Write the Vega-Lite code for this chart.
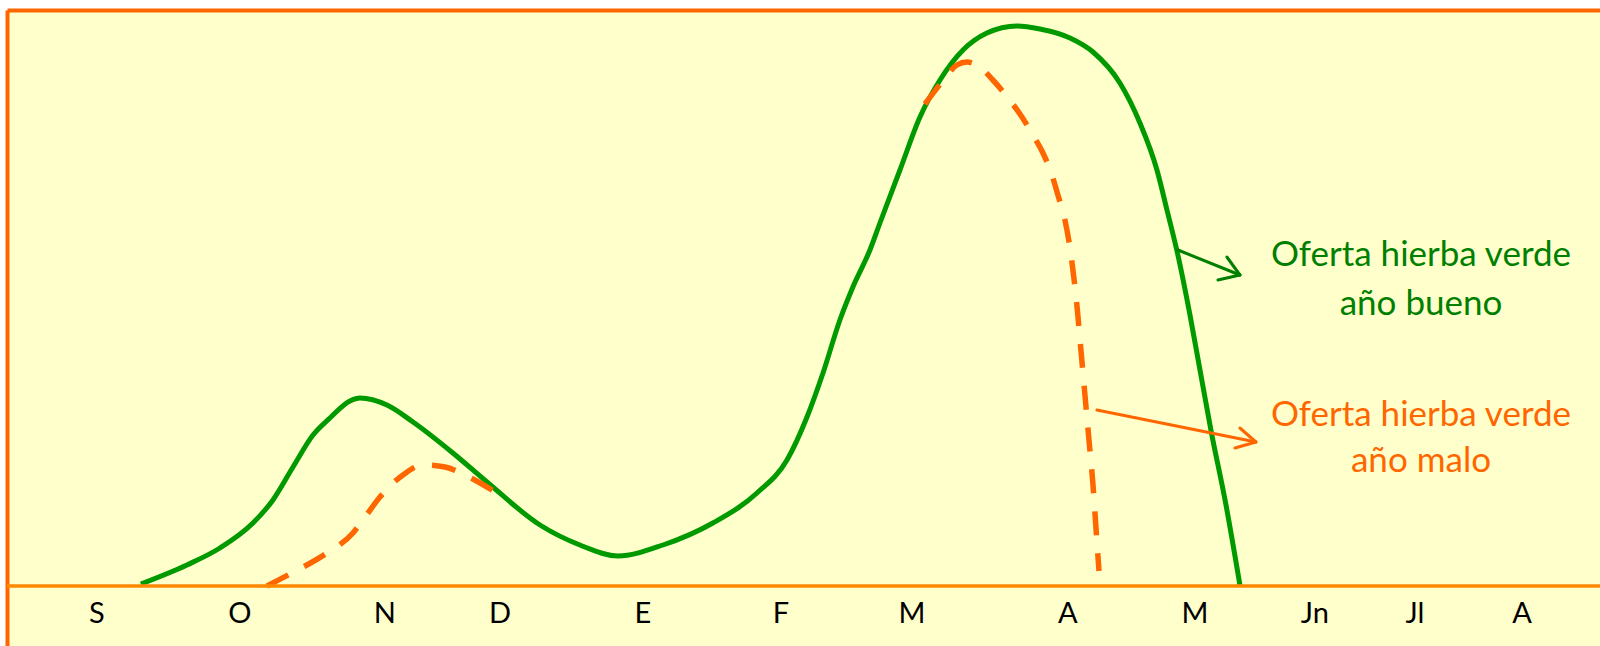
{
  "$schema": "https://vega.github.io/schema/vega-lite/v6.json",
  "width": 1593,
  "height": 636,
  "autosize": {"type": "none"},
  "padding": {"left": 7, "top": 10, "right": 0, "bottom": 0},
  "background": "#FFFFFF",
  "config": {
    "view": {"fill": "#FFFFCC", "stroke": null},
    "axis": {"labels": false, "ticks": false, "grid": false, "domainColor": "#FF6600", "domainWidth": 4}
  },
  "datasets": {
    "bueno": [
      {"x": 0.338, "y": 0.5}, {"x": 0.692, "y": 5.25}, {"x": 0.946, "y": 9.5}, {"x": 1.2, "y": 15.75},
      {"x": 1.354, "y": 21.5}, {"x": 1.508, "y": 29.75}, {"x": 1.662, "y": 37.75}, {"x": 1.792, "y": 42},
      {"x": 1.946, "y": 46.25}, {"x": 2.023, "y": 47}, {"x": 2.231, "y": 45.25}, {"x": 2.431, "y": 41},
      {"x": 2.738, "y": 33.25}, {"x": 3.0, "y": 26}, {"x": 3.408, "y": 15.25}, {"x": 3.715, "y": 10.25},
      {"x": 4.008, "y": 7.5}, {"x": 4.354, "y": 10.25}, {"x": 4.738, "y": 15.75}, {"x": 5.077, "y": 23.25},
      {"x": 5.308, "y": 31.5}, {"x": 5.462, "y": 42.25}, {"x": 5.585, "y": 53.25}, {"x": 5.715, "y": 66.5},
      {"x": 5.815, "y": 74.75}, {"x": 5.946, "y": 84}, {"x": 6.023, "y": 90.75}, {"x": 6.177, "y": 104},
      {"x": 6.331, "y": 117.25}, {"x": 6.485, "y": 126.5}, {"x": 6.662, "y": 134}, {"x": 6.846, "y": 138.25},
      {"x": 7.077, "y": 140}, {"x": 7.254, "y": 139.25}, {"x": 7.485, "y": 137}, {"x": 7.662, "y": 133.5},
      {"x": 7.869, "y": 125.75}, {"x": 8.023, "y": 115.75}, {"x": 8.154, "y": 104}, {"x": 8.231, "y": 94},
      {"x": 8.315, "y": 82.75}, {"x": 8.408, "y": 67.75}, {"x": 8.485, "y": 54}, {"x": 8.569, "y": 39},
      {"x": 8.685, "y": 20.25}, {"x": 8.792, "y": 0.25}
    ],
    "malo": [
      {"seg": 1, "x": 1.308, "y": 0}, {"seg": 1, "x": 1.485, "y": 3}, {"seg": 1, "x": 1.769, "y": 8.25},
      {"seg": 1, "x": 1.969, "y": 13.25}, {"seg": 1, "x": 2.046, "y": 16.5}, {"seg": 1, "x": 2.177, "y": 22.25},
      {"seg": 1, "x": 2.354, "y": 27.75}, {"seg": 1, "x": 2.508, "y": 30.25}, {"seg": 1, "x": 2.677, "y": 29.75},
      {"seg": 1, "x": 2.846, "y": 27.5}, {"seg": 1, "x": 3.1, "y": 22.75},
      {"seg": 2, "x": 6.369, "y": 120.5}, {"seg": 2, "x": 6.5, "y": 126}, {"seg": 2, "x": 6.615, "y": 130.25},
      {"seg": 2, "x": 6.692, "y": 131}, {"seg": 2, "x": 6.769, "y": 130.25}, {"seg": 2, "x": 6.892, "y": 126.5},
      {"seg": 2, "x": 7.008, "y": 122}, {"seg": 2, "x": 7.1, "y": 118}, {"seg": 2, "x": 7.2, "y": 112.75},
      {"seg": 2, "x": 7.277, "y": 108.25}, {"seg": 2, "x": 7.346, "y": 102.75}, {"seg": 2, "x": 7.392, "y": 97.75},
      {"seg": 2, "x": 7.446, "y": 91.5}, {"seg": 2, "x": 7.485, "y": 84.5}, {"seg": 2, "x": 7.515, "y": 77},
      {"seg": 2, "x": 7.538, "y": 70.25}, {"seg": 2, "x": 7.569, "y": 59}, {"seg": 2, "x": 7.6, "y": 47.75},
      {"seg": 2, "x": 7.631, "y": 36.5}, {"seg": 2, "x": 7.662, "y": 25.25}, {"seg": 2, "x": 7.685, "y": 14.5},
      {"seg": 2, "x": 7.708, "y": 3.75}
    ],
    "flechas": [
      {"serie": "bueno", "x": 8.315, "y": 84, "x2": 8.792, "y2": 77.75},
      {"serie": "bueno", "x": 8.623, "y": 76.5, "x2": 8.792, "y2": 77.75},
      {"serie": "bueno", "x": 8.692, "y": 82.25, "x2": 8.792, "y2": 77.75},
      {"serie": "malo", "x": 7.692, "y": 44, "x2": 8.915, "y2": 36},
      {"serie": "malo", "x": 8.754, "y": 34.5, "x2": 8.915, "y2": 36},
      {"serie": "malo", "x": 8.792, "y": 39.5, "x2": 8.915, "y2": 36}
    ],
    "meses": [
      {"m": "S", "x": 0}, {"m": "O", "x": 1.1}, {"m": "N", "x": 2.215}, {"m": "D", "x": 3.1},
      {"m": "E", "x": 4.2}, {"m": "F", "x": 5.262}, {"m": "M", "x": 6.269}, {"m": "A", "x": 7.469},
      {"m": "M ", "x": 8.446}, {"m": "Jn", "x": 9.369}, {"m": "Jl", "x": 10.138}, {"m": "A ", "x": 10.962}
    ],
    "notas": [
      {"serie": "bueno", "t": "Oferta hierba verde", "x": 10.185, "y": 82.75},
      {"serie": "bueno", "t": "año bueno", "x": 10.185, "y": 70.5},
      {"serie": "malo", "t": "Oferta hierba verde", "x": 10.185, "y": 42.75},
      {"serie": "malo", "t": "año malo", "x": 10.185, "y": 31.25}
    ]
  },
  "layer": [
    {
      "data": {"name": "bueno"},
      "mark": {"type": "line", "interpolate": "monotone", "color": "#009900", "strokeWidth": 5},
      "encoding": {
        "x": {"field": "x", "type": "quantitative", "scale": {"domain": [-0.692, 11.562], "nice": false, "zero": false}, "axis": {"orient": "top", "title": null}},
        "y": {"field": "y", "type": "quantitative", "scale": {"domain": [-15, 144], "nice": false, "zero": false}, "axis": {"orient": "left", "title": null}}
      }
    },
    {
      "data": {"name": "malo"},
      "mark": {"type": "line", "interpolate": "monotone", "color": "#FF6600", "strokeWidth": 5.5, "strokeDash": [24, 18]},
      "encoding": {
        "x": {"field": "x", "type": "quantitative", "scale": {"domain": [-0.692, 11.562], "nice": false, "zero": false}, "axis": {"orient": "top", "title": null}},
        "y": {"field": "y", "type": "quantitative", "scale": {"domain": [-15, 144], "nice": false, "zero": false}, "axis": {"orient": "left", "title": null}},
        "detail": {"field": "seg", "type": "nominal"}
      }
    },
    {
      "data": {"values": [{"base": 0}]},
      "mark": {"type": "rule", "color": "#FF8800", "strokeWidth": 3.5},
      "encoding": {
        "y": {"field": "base", "type": "quantitative", "scale": {"domain": [-15, 144], "nice": false, "zero": false}, "axis": {"orient": "left", "title": null}}
      }
    },
    {
      "data": {"name": "flechas"},
      "mark": {"type": "rule", "strokeWidth": 3, "strokeCap": "round"},
      "encoding": {
        "x": {"field": "x", "type": "quantitative", "scale": {"domain": [-0.692, 11.562], "nice": false, "zero": false}, "axis": {"orient": "top", "title": null}},
        "y": {"field": "y", "type": "quantitative", "scale": {"domain": [-15, 144], "nice": false, "zero": false}, "axis": {"orient": "left", "title": null}},
        "x2": {"field": "x2"},
        "y2": {"field": "y2"},
        "color": {"field": "serie", "type": "nominal", "scale": {"domain": ["bueno", "malo"], "range": ["#007F00", "#FF6600"]}, "legend": null}
      }
    },
    {
      "data": {"name": "notas"},
      "mark": {"type": "text", "font": "Lato", "fontSize": 35, "align": "center", "baseline": "middle"},
      "encoding": {
        "x": {"field": "x", "type": "quantitative", "scale": {"domain": [-0.692, 11.562], "nice": false, "zero": false}, "axis": {"orient": "top", "title": null}},
        "y": {"field": "y", "type": "quantitative", "scale": {"domain": [-15, 144], "nice": false, "zero": false}, "axis": {"orient": "left", "title": null}},
        "text": {"field": "t"},
        "color": {"field": "serie", "type": "nominal", "scale": {"domain": ["bueno", "malo"], "range": ["#006600", "#FF6600"]}, "legend": null}
      }
    },
    {
      "data": {"name": "meses"},
      "mark": {"type": "text", "font": "Lato", "fontSize": 29, "align": "center", "baseline": "middle", "color": "#000000"},
      "encoding": {
        "x": {"field": "x", "type": "quantitative", "scale": {"domain": [-0.692, 11.562], "nice": false, "zero": false}, "axis": {"orient": "top", "title": null}},
        "y": {"datum": -7, "type": "quantitative", "scale": {"domain": [-15, 144], "nice": false, "zero": false}, "axis": {"orient": "left", "title": null}},
        "text": {"field": "m"}
      }
    }
  ]
}
